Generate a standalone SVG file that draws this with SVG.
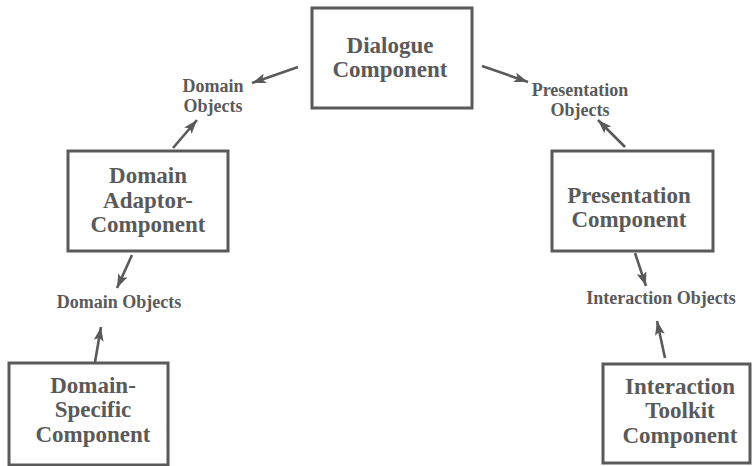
<svg xmlns="http://www.w3.org/2000/svg" width="752" height="466" viewBox="0 0 752 466">
<style>
.box{fill:#fff;stroke:#5a5a5a;stroke-width:3}
.nt{font-family:"Liberation Serif",serif;font-weight:bold;font-size:23px;fill:#5a5a5a;text-anchor:middle}
.lt{font-family:"Liberation Serif",serif;font-weight:bold;font-size:18px;fill:#5a5a5a;text-anchor:middle}
.arr{stroke:#5a5a5a;stroke-width:2.6;fill:none;marker-end:url(#ah)}
</style>
<defs>
<marker id="ah" markerUnits="userSpaceOnUse" viewBox="0 0 14 10" refX="14" refY="5" markerWidth="14" markerHeight="10" orient="auto">
<path d="M0,0 L14,5 L0,10 L3,5 Z" fill="#5a5a5a"/>
</marker>
</defs>
<rect width="752" height="466" fill="#fff"/>
<g id="connectors">
<line class="arr" x1="298" y1="67" x2="252" y2="83"/>
<line class="arr" x1="173" y1="148" x2="197" y2="120"/>
<line class="arr" x1="482" y1="66" x2="528" y2="82"/>
<line class="arr" x1="625" y1="147" x2="598" y2="120"/>
<line class="arr" x1="132" y1="255" x2="117" y2="288"/>
<line class="arr" x1="95" y1="362" x2="101" y2="327"/>
<line class="arr" x1="635" y1="253" x2="646" y2="286"/>
<line class="arr" x1="665" y1="358" x2="657" y2="321"/>
</g>
<g id="dialogue">
<rect class="box" x="312" y="8" width="160" height="100"/>
<text class="nt" x="390" y="53">Dialogue</text>
<text class="nt" x="390" y="77">Component</text>
</g>
<g id="domain-adaptor">
<rect class="box" x="68" y="151" width="160" height="100"/>
<text class="nt" x="148" y="183">Domain</text>
<text class="nt" x="148" y="208">Adaptor-</text>
<text class="nt" x="148" y="232">Component</text>
</g>
<g id="presentation">
<rect class="box" x="552" y="151" width="161" height="100"/>
<text class="nt" x="629" y="203">Presentation</text>
<text class="nt" x="629" y="227">Component</text>
</g>
<g id="domain-specific">
<rect class="box" x="9" y="363" width="159" height="102"/>
<text class="nt" x="93" y="393">Domain-</text>
<text class="nt" x="93" y="417">Specific</text>
<text class="nt" x="93" y="442">Component</text>
</g>
<g id="interaction-toolkit">
<rect class="box" x="603" y="364" width="147" height="99"/>
<text class="nt" x="680" y="394">Interaction</text>
<text class="nt" x="680" y="418">Toolkit</text>
<text class="nt" x="680" y="443">Component</text>
</g>
<g id="labels">
<text class="lt" x="213" y="92">Domain</text>
<text class="lt" x="213" y="112">Objects</text>
<text class="lt" x="580" y="96">Presentation</text>
<text class="lt" x="580" y="116">Objects</text>
<text class="lt" x="119" y="308">Domain Objects</text>
<text class="lt" x="661" y="304">Interaction Objects</text>
</g>
</svg>
